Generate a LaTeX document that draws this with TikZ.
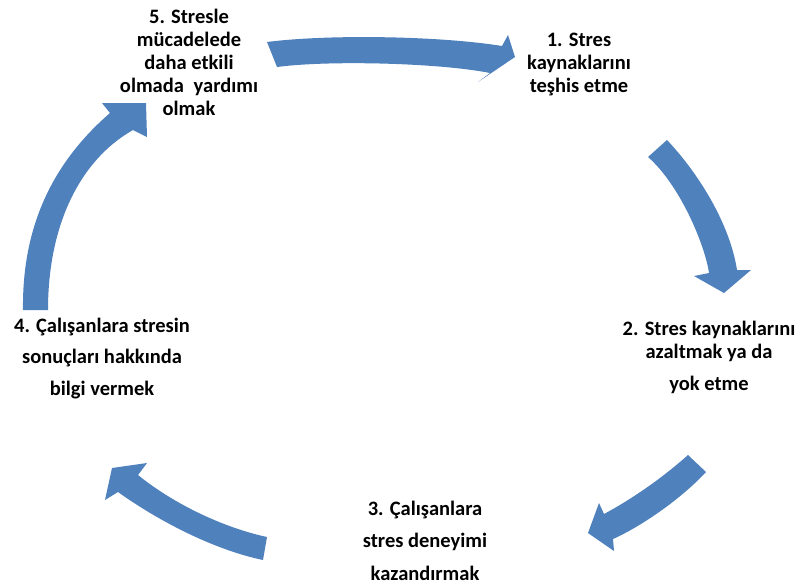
\documentclass[tikz,border=0pt]{standalone}
\usepackage{fontspec}
\setmainfont{Carlito}
\definecolor{cycleblue}{HTML}{4F81BD}
\begin{document}
\begin{tikzpicture}[x=1pt,y=-1pt,
  blockarrow/.style={fill=cycleblue,draw=none},
  lbl/.style={anchor=base,inner sep=0pt,text=black,
    font=\fontsize{20.5}{23}\selectfont\bfseries}]
\useasboundingbox[fill=white] (0,0) rectangle (801,584);

% curved block arrows of the cycle
\fill[blockarrow] (267,42) .. controls (330,34) and (440,36) .. (502,46)
  -- (508,35) -- (515,57) -- (478,82) -- (490,73)
  .. controls (440,63) and (330,60) .. (277,67) -- cycle;
\fill[blockarrow] (667,140) .. controls (700,175) and (730,225) .. (737,270)
  -- (751,270) -- (724,293) -- (694,276) -- (709,273)
  .. controls (705,245) and (680,185) .. (648,157) -- cycle;
\fill[blockarrow] (688,455) .. controls (660,480) and (630,500) .. (604,514)
  -- (599,503) -- (588,533) -- (614,551) -- (613,539)
  .. controls (640,527) and (680,500) .. (706,472) -- cycle;
\fill[blockarrow] (267,537) .. controls (225,528) and (175,505) .. (138,475)
  -- (147,463) -- (112,468) -- (105,500) -- (118,492)
  .. controls (160,522) and (215,550) .. (263,560) -- cycle;
\fill[blockarrow] (23,310) .. controls (22,230) and (50,165) .. (110,113)
  -- (102,103) -- (146,103) -- (147,137) -- (133,130)
  .. controls (80,160) and (48,225) .. (48,310) -- cycle;

% step labels
\node[lbl] (s1) at (579,46) {\begin{tabular}[t]{@{}c@{}}1. Stres\\ kaynaklarını\\ teşhis etme\end{tabular}};
\node[lbl] (s2) at (709,335) {\begin{tabular}[t]{@{}c@{}}2. Stres kaynaklarını\\ azaltmak ya da\\[9pt] yok etme\end{tabular}};
\node[lbl] (s3) at (425,515) {\begin{tabular}[t]{@{}c@{}}3. Çalışanlara\\[9.5pt] stres deneyimi\\[9.5pt] kazandırmak\end{tabular}};
\node[lbl] (s4) at (102,332) {\begin{tabular}[t]{@{}c@{}}4. Çalışanlara stresin\\[8.5pt] sonuçları hakkında\\[8.5pt] bilgi vermek\end{tabular}};
\node[lbl] (s5) at (189,23.5) {\begin{tabular}[t]{@{}c@{}}5. Stresle\\ mücadelede\\ daha etkili\\ olmada\hspace{0.25em} yardımı\\ olmak\end{tabular}};
\end{tikzpicture}
\end{document}
